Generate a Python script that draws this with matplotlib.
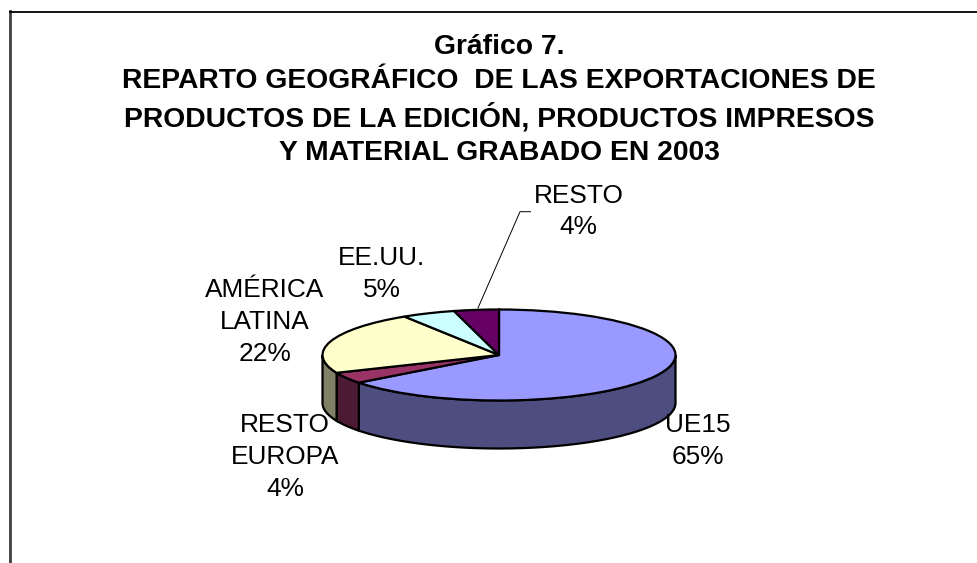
import numpy as np
import matplotlib
matplotlib.use("Agg")
import matplotlib.pyplot as plt
from matplotlib.lines import Line2D

plt.rcParams['font.family'] = ['Liberation Sans', 'DejaVu Sans']

# Datos del grafico
regiones = ['UE15', 'RESTO\nEUROPA', 'AMÉRICA\nLATINA', 'EE.UU.', 'RESTO']
valores = [64.6, 4.0, 22.4, 4.9, 4.1]
colores = ['#9999FF', '#993366', '#FFFFCC', '#CCFFFF', '#660066']
colores_lado = ['#4D4D80', '#4D1A33', '#808066', '#668080', '#330033']
titulo = ('Gráfico 7.\nREPARTO GEOGRÁFICO  DE LAS EXPORTACIONES DE\n'
          'PRODUCTOS DE LA EDICIÓN, PRODUCTOS IMPRESOS\n'
          'Y MATERIAL GRABADO EN 2003')

W, H = 977, 563
fig = plt.figure(figsize=(W / 100, H / 100), dpi=100)


def fx(px):
    return px / W


def fy(py):
    return 1 - py / H


# Geometria de la tarta en pixeles
cx, cy, rx, ry, prof = 499, 355, 176.5, 45.5, 48

# Ejes ajustados a la tapa mas la pared lateral
ax = fig.add_axes([fx(cx - rx), fy(cy + ry + prof), 2 * rx / W, (2 * ry + prof) / H])
ax.pie(valores, colors=colores, startangle=90, counterclock=False, radius=1,
       wedgeprops={'linewidth': 1.6, 'edgecolor': 'black', 'zorder': 3})
ax.set_aspect('auto')
ax.set_xlim(-1, 1)
ax.set_ylim(-1 - prof / ry, 1)
ax.axis('off')

# Pared lateral: solo la parte delantera de cada sector
d = prof / ry
fin = 90.0
for valor, color in zip(valores, colores_lado):
    ini = fin - valor * 360 / sum(valores)
    a1 = ini % 360
    a2 = a1 + valor * 360 / sum(valores)
    t1 = max(a1, 180)
    t2 = min(a2, 360)
    if t2 > t1:
        t = np.radians(np.linspace(t1, t2, 80))
        x = np.cos(t)
        y = np.sin(t)
        ax.fill(np.r_[x, x[::-1]], np.r_[y, y[::-1] - d], facecolor=color,
                edgecolor='black', linewidth=1.6, zorder=2, clip_on=False)
    fin = ini

# Marco superior e izquierdo
fig.add_artist(Line2D([fx(10), fx(10)], [fy(11), 0], color='#404040', lw=2))
fig.add_artist(Line2D([fx(10), 1], [fy(11.5), fy(11.5)], color='black', lw=1.3))

# Titulo
fig.text(fx(499), fy(100), titulo, ha='center', va='center', fontsize=20.3,
         fontweight='bold', linespacing=1.38)

# Etiquetas
posiciones = [(698, 441), (285, 457), (265, 322), (381.5, 274), (578.6, 211.5)]
for nombre, valor, (px, py) in zip(regiones, valores, posiciones):
    fig.text(fx(px), fy(py), f'{nombre}\n{valor:.0f}%', ha='center', va='center',
             fontsize=18.9, linespacing=1.42)

# Linea guia de RESTO
fig.add_artist(Line2D([fx(530.5), fx(520), fx(478)],
                      [fy(211.7), fy(211.7), fy(308)], color='black', lw=0.7))

fig.savefig('out.png', dpi=100)
